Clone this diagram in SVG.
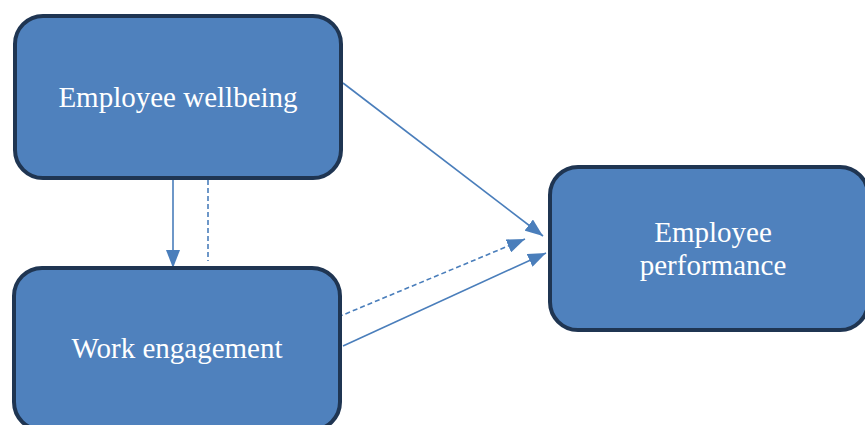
<svg xmlns="http://www.w3.org/2000/svg" width="865" height="425" viewBox="0 0 865 425">
<style>
.box{fill:#4F81BD;stroke:#1F3552;stroke-width:4}
.lbl{font-family:"Liberation Serif","Times New Roman",serif;font-size:29px;fill:#ffffff;text-anchor:middle}
.ln{stroke:#4A7EBB;stroke-width:1.6;fill:none}
.dash{stroke-dasharray:5,3}
</style>
<defs>
<marker id="ah" markerWidth="10" markerHeight="8" refX="10" refY="4" orient="auto" markerUnits="userSpaceOnUse" viewBox="0 0 10 8">
<path d="M0,0 L10,4 L0,8 Z" fill="#4A7EBB"/>
</marker>
<marker id="ahb" markerWidth="18" markerHeight="14" refX="18" refY="7" orient="auto" markerUnits="userSpaceOnUse" viewBox="0 0 18 14">
<path d="M0,0 L18,7 L0,14 Z" fill="#4A7EBB"/>
</marker>
</defs>
<rect width="865" height="425" fill="#ffffff"/>
<g id="connectors">
<line class="ln" x1="173" y1="180" x2="173" y2="268" marker-end="url(#ahb)"/>
<line class="ln dash" x1="208" y1="180" x2="208" y2="261"/>
<line class="ln" x1="343" y1="83" x2="543" y2="236" marker-end="url(#ahb)"/>
<line class="ln dash" x1="338" y1="317" x2="525" y2="239" marker-end="url(#ahb)"/>
<line class="ln" x1="343" y1="346" x2="546" y2="253" marker-end="url(#ahb)"/>
</g>
<g id="wellbeing">
<rect class="box" x="15" y="16" width="326" height="162" rx="28"/>
<text class="lbl" x="178" y="107">Employee wellbeing</text>
</g>
<g id="engagement">
<rect class="box" x="14" y="268" width="326" height="162" rx="28"/>
<text class="lbl" x="177" y="358">Work engagement</text>
</g>
<g id="performance">
<rect class="box" x="550" y="167" width="318" height="163" rx="28"/>
<text class="lbl" x="713" y="242">Employee</text>
<text class="lbl" x="713" y="275">performance</text>
</g>
</svg>
